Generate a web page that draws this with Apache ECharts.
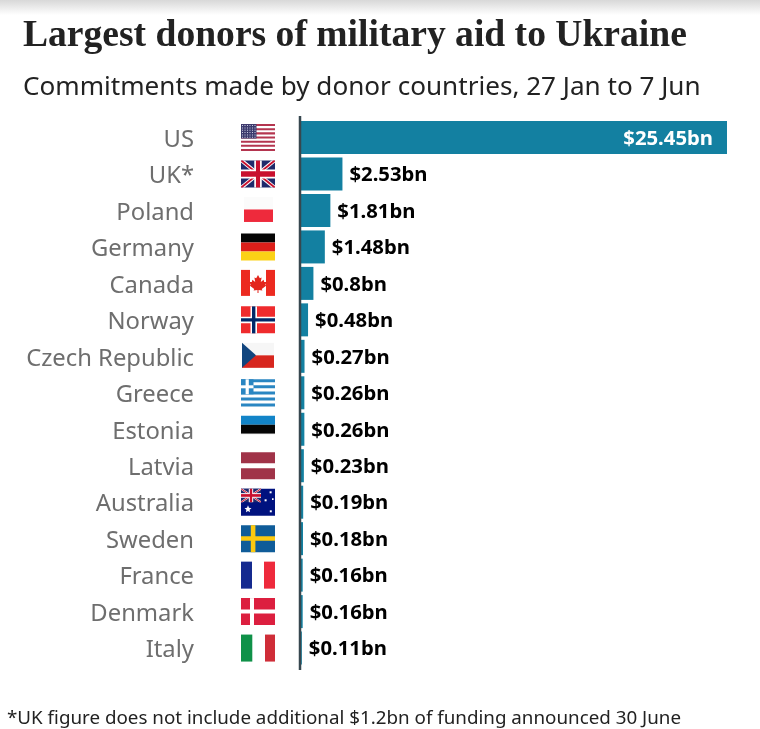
<!DOCTYPE html>
<html>
<head>
<meta charset="utf-8">
<style>
html, body { margin: 0; padding: 0; background: #fff; }
#chart { width: 760px; height: 729px; }
</style>
<script src="https://cdn.jsdelivr.net/npm/echarts@6/dist/echarts.min.js"></script>
</head>
<body>
<div id="chart"></div>
<script>
var categories = ['US', 'UK*', 'Poland', 'Germany', 'Canada', 'Norway', 'Czech Republic', 'Greece', 'Estonia', 'Latvia', 'Australia', 'Sweden', 'France', 'Denmark', 'Italy'];
var commitments = [25.45, 2.53, 1.81, 1.48, 0.8, 0.48, 0.27, 0.26, 0.26, 0.23, 0.19, 0.18, 0.16, 0.16, 0.11];

var titleText = 'Largest donors of military aid to Ukraine';
var subtitleText = 'Commitments made by donor countries, 27 Jan to 7 Jun';
var footnoteText = '*UK figure does not include additional $1.2bn of funding announced 30 June';

var barColor = '#1380a1';

// flags are drawn on a 34x27 box, rect = [x, y, w, h, colour], poly = [[points], colour]
function r(x, y, w, h, c) { return {type: 'rect', shape: {x: x, y: y, width: w, height: h}, style: {fill: c}}; }
function p(points, c) { return {type: 'polygon', shape: {points: points}, style: {fill: c}}; }

function unionJack(w, h) {
    var navy = '#1f2a6b', red = '#c8102e', t = h * 0.13;
    return [
        r(0, 0, w, h, navy),
        p([[0, 0], [t, 0], [w, h - t * 0.6], [w, h], [w - t, h], [0, t * 0.6]], '#fff'),
        p([[w, 0], [w - t, 0], [0, h - t * 0.6], [0, h], [t, h], [w, t * 0.6]], '#fff'),
        p([[0, 0], [t * 0.5, 0], [w, h - t * 0.3], [w, h], [w - t * 0.5, h], [0, t * 0.3]], red),
        p([[w, 0], [w - t * 0.5, 0], [0, h - t * 0.3], [0, h], [t * 0.5, h], [w, t * 0.3]], red),
        r(w * 0.39, 0, w * 0.22, h, '#fff'),
        r(0, h * 0.33, w, h * 0.34, '#fff'),
        r(w * 0.44, 0, w * 0.12, h, red),
        r(0, h * 0.4, w, h * 0.2, red)
    ];
}

function usFlag() {
    var out = [r(0, 0, 34, 27, '#fff')];
    for (var i = 0; i < 7; i++) {
        out.push(r(0, i * 4.15, 34, 2.08, '#b4354f'));
    }
    out.push(r(0, 0, 15.5, 14.5, '#3c3b6e'));
    for (var row = 0; row < 6; row++) {
        for (var col = 0; col < 6; col++) {
            out.push(r(1 + col * 2.5, 1 + row * 2.35, 1, 1, '#c9cbe0'));
        }
    }
    return out;
}

var leaf = [[17, 5], [18.8, 8.4], [20.6, 7.6], [19.8, 12], [22.6, 9.8], [23.2, 12], [25.4, 12], [24.4, 15], [25.4, 15.6],
    [20.8, 19], [21.4, 20.6], [17.5, 20], [17.5, 23], [16.5, 23], [16.5, 20], [12.6, 20.6], [13.2, 19], [8.6, 15.6],
    [9.6, 15], [8.6, 12], [10.8, 12], [11.4, 9.8], [14.2, 12], [13.4, 7.6], [15.2, 8.4]];

var greekStripes = [];
for (var g = 0; g < 5; g++) {
    greekStripes.push(r(0, g * 6.05, 34, 3, '#2a86c2'));
}

var flags = {
    'US': usFlag(),
    'UK*': unionJack(34, 27),
    'Poland': [r(3, 0, 29, 12.5, '#fbfbfb'), r(3, 12.5, 29, 12.5, '#ee2a3c')],
    'Germany': [r(0, 0, 34, 9, '#050505'), r(0, 9, 34, 9, '#dc1f1a'), r(0, 18, 34, 9, '#fbd116')],
    'Canada': [r(0, 0, 9, 26, '#ec2a20'), r(25, 0, 9, 26, '#ec2a20'), p(leaf, '#e3261c')],
    'Norway': [r(0, 0, 34, 27, '#ef2b2d'), r(9.5, 0, 6.5, 27, '#fff'), r(0, 10.3, 34, 6.5, '#fff'),
        r(11, 0, 3.4, 27, '#002868'), r(0, 11.8, 34, 3.4, '#002868')],
    'Czech Republic': [r(1, 0, 32, 12.5, '#f6f6f6'), r(1, 12.5, 32, 12.5, '#d7261e'), p([[1, 0], [15, 12.5], [1, 25]], '#11457e')],
    'Greece': greekStripes.concat([r(0, 0, 12.5, 15, '#2a86c2'), r(4.6, 0, 3.2, 15, '#fff'), r(0, 6, 12.5, 3, '#fff')]),
    'Estonia': [r(0, 0, 34, 9, '#1284c8'), r(0, 9, 34, 9, '#050505'), r(0, 18, 34, 0.5, '#ddd')],
    'Latvia': [r(0, 0, 34, 11, '#a03348'), r(0, 16, 34, 11, '#a03348')],
    'Australia': [r(0, 0, 34, 27, '#00127f')].concat(unionJack(20, 13.5), [
        p([[7, 16.5], [8, 19], [10.5, 19.5], [8.6, 21], [9, 23.5], [7, 22.2], [5, 23.5], [5.4, 21], [3.5, 19.5], [6, 19]], '#fff'),
        r(28.6, 2.6, 2, 2, '#fff'), r(23.6, 10.6, 2, 2, '#fff'), r(31, 9.6, 1.6, 1.6, '#fff'), r(28.8, 21.6, 2, 2, '#fff')
    ]),
    'Sweden': [r(0, 0, 34, 27, '#0f5c99'), r(9.8, 0, 4.6, 27, '#fcc90f'), r(0, 11, 34, 4.6, '#fcc90f')],
    'France': [r(0, 0, 11, 27, '#152a8f'), r(23, 0, 11, 27, '#ee2a3c')],
    'Denmark': [r(0, 0, 34, 27, '#dc1f3f'), r(9, 0, 4, 27, '#fff'), r(0, 11.3, 34, 4, '#fff')],
    'Italy': [r(0, 0, 11.3, 27, '#0f9148'), r(24, 0, 10, 27, '#cf2d38')]
};

var chart = echarts.init(document.getElementById('chart'));

var option = {
    backgroundColor: '#fff',
    animation: false,
    title: [
        {text: titleText, left: 23, top: 17, padding: 0, textStyle: {fontFamily: 'Liberation Serif', fontWeight: 'bold', fontSize: 37.6, color: '#222'}},
        {text: subtitleText, left: 23, top: 75, padding: 0, textStyle: {fontFamily: 'Noto Sans', fontWeight: 'normal', fontSize: 26.1, color: '#222'}},
        {text: footnoteText, left: 7, top: 709, padding: 0, textStyle: {fontFamily: 'Noto Sans', fontWeight: 'normal', fontSize: 18.8, color: '#222'}}
    ],
    grid: {left: 300, top: 119.3, width: 427, height: 547},
    xAxis: {type: 'value', min: 0, max: 25.45, show: false},
    yAxis: {
        type: 'category',
        inverse: true,
        data: categories,
        axisLine: {show: false},
        axisTick: {show: false},
        axisLabel: {
            margin: 106,
            formatter: '{n|{value}}',
            rich: {
                n: {color: '#6e6e6e', fontFamily: 'Noto Sans', fontSize: 23.8, padding: [5, 0, 0, 0]}
            }
        }
    },
    series: [
        {
            type: 'bar',
            barWidth: 33,
            itemStyle: {color: barColor},
            data: commitments.map(function (v, i) {
                if (i === 0) {
                    return {value: v, label: {position: 'insideRight', distance: 14, color: '#fff'}};
                }
                return v;
            }),
            label: {
                show: true,
                position: 'right',
                distance: 7,
                color: '#000',
                fontFamily: 'Noto Sans',
                fontWeight: 'bold',
                fontSize: 20.3,
                offset: [0, 1.5],
                formatter: function (params) {
                    return '$' + params.value + 'bn';
                }
            }
        },
        {
            type: 'custom',
            silent: true,
            data: categories.map(function (c) { return [0, c]; }),
            encode: {x: 0, y: 1},
            renderItem: function (params, api) {
                var pt = api.coord([0, api.value(1)]);
                return {
                    type: 'group',
                    x: pt[0] - 59,
                    y: pt[1] - 13.5,
                    children: flags[categories[params.dataIndex]]
                };
            }
        }
    ],
    graphic: [
        {
            type: 'rect',
            z: 10,
            shape: {x: 0, y: 0, width: 760, height: 15},
            style: {
                fill: new echarts.graphic.LinearGradient(0, 0, 0, 1, [
                    {offset: 0, color: '#d8d8d8'},
                    {offset: 1, color: '#ffffff'}
                ])
            }
        },
        {
            type: 'line',
            z: 10,
            shape: {x1: 300, y1: 116, x2: 300, y2: 670},
            style: {stroke: '#37474f', lineWidth: 2.5}
        }
    ]
};

chart.setOption(option);
</script>
</body>
</html>
